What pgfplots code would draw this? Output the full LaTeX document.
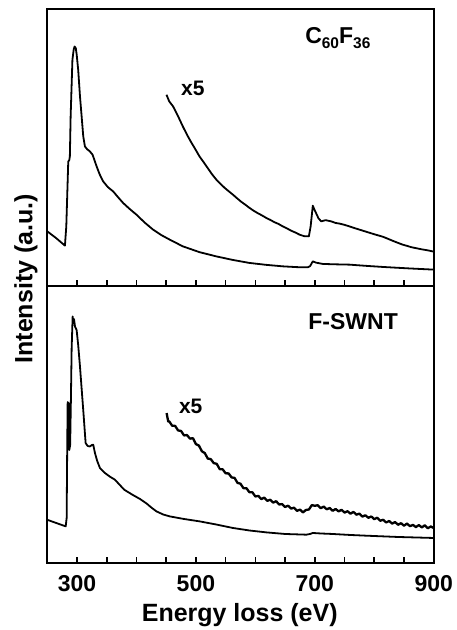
\documentclass[border=0pt]{standalone}
\usepackage{fontspec}
\setmainfont{Liberation Sans}
\usepackage{pgfplots}
\pgfplotsset{compat=1.18}

\newcommand{\lbl}{\bfseries\fontsize{23}{27}\selectfont}
\newcommand{\axlbl}{\bfseries\fontsize{25}{29}\selectfont}
\newcommand{\sub}[1]{\raisebox{-0.22em}{\fontsize{15.5}{16}\selectfont #1}}

\pgfplotstableread{
e    h
300  6
350  6
400  6
450  6
500  6
550  6
600  6
650  6
700  6
750  6
800  6
850  6
}\ticktab

\pgfplotsset{
  panel/.style={
    scale only axis, width=386.7pt, height=277pt,
    anchor=south west, clip=false,
    xmin=250, xmax=900, ymin=0, ymax=277,
    xtick={300,500,700,900}, ytick=\empty,
    xtick pos=left, tick align=inside,
    major tick length=6pt,
    axis line style={line width=1.6pt},
    xticklabel style={font=\lbl, anchor=base, yshift=-28.4pt},
  },
  spec/.style={black, mark=none, line width=1.8pt, line join=round},
}

\begin{document}
\begin{tikzpicture}
\path (0,0) rectangle (454pt,630pt);

% upper panel: C60F36
\begin{axis}[panel, at={(47.3pt,343.7pt)}, xticklabels={}]
\addplot[spec] coordinates {
 (250,54.8) (265,48) (279.7,40.5) (282,60) (285.3,124.8) (287,126) (288,130)
 (289.3,169.8) (292.3,226.5) (294.5,237) (296,239.8) (298,238) (299.5,231.5)
 (302,216.5) (305,190) (307.8,169.8) (310.5,150) (313.3,139.8) (317,137)
 (321.7,134.8) (326.2,131.5) (333,119.8) (338,112) (344,104.8) (352,99)
 (360.8,94.8) (369,89) (377.6,83.2) (388,77.5) (400,71.5) (414,63.5)
 (428,56.5) (442,51) (456,46.5) (478,39.8) (506,34) (534,29.8) (562,26.2)
 (590,23.2) (618,21.3) (646,19.8) (670,19) (688,18.8) (692,20) (696.6,24.8)
 (702,23.5) (713.4,22.2) (735,21.8) (758,21.5) (786,20.3) (814,19.2)
 (856,17.8) (900,16.5)
};
\addplot[spec] coordinates {
 (450.5,191.5) (455,185) (461.6,179.8) (470,170) (478,159.8) (485,151.5)
 (492,144) (499,137) (506,129.8) (513,124) (520,118) (527,112) (534.4,106.5)
 (541,102.5) (548,98.5) (555,95) (562.3,91.5) (569,88) (576,84.5) (583,81.5)
 (590.3,78.2) (597,75.5) (604,73) (611,70.8) (618.4,68.2) (625,66.3)
 (632,64) (639,62.2) (646,59.8) (653,57.8) (660,55.5) (667,53.7)
 (674.3,51.5) (682,50) (690,49.8) (693,60) (696.6,80.5) (699,77)
 (702,73.2) (706,68) (710.7,64.8) (718,66) (722,65.5) (727.5,64.8)
 (735,63.2) (742,62.5) (750,61.3) (758,59.8) (765,58.4) (772,57.1) (779,55.8)
 (786,54.5) (793,53.2) (800,51.9) (807,50.7) (814,49.5) (822,47.6) (830,45.6)
 (838,43.7) (847.7,41.5) (855,40.3) (862,39) (870,38) (880,36.8) (890,35.8)
 (900,34.5)
};
\addplot[ycomb, black, mark=none, line width=1.6pt] table[x=e, y=h] {\ticktab};
\node[font=\lbl, anchor=base] at (axis cs:738.7,243.2) {C\sub{60}F\sub{36}};
\node[font=\bfseries\fontsize{21}{25}\selectfont, anchor=base] at (axis cs:494.7,190.5) {x5};
\end{axis}

% lower panel: F-SWNT
\begin{axis}[panel, at={(47.3pt,66.7pt)}, xticklabels={300,500,700,900},
  xlabel={Energy loss (eV)},
  xlabel style={font=\axlbl, at={(axis description cs:0.498,-0.211)}, anchor=base}]
\addplot[spec] coordinates {
 (251,43) (265,40) (281,36.6) (282.6,45) (283.5,113) (284.3,161) (285,115)
 (286,160) (287,113) (288.5,118) (289.8,165) (291,215) (292.7,246.6)
 (294,240) (295,244) (296.6,236.6) (299.4,233) (302,218) (305,196.6)
 (310.5,153) (314.5,120) (318,117) (321.8,116.6) (325,118) (327.3,118.3)
 (330.2,110) (334,102) (338.6,95) (347,90) (355,86.5) (363.8,83.3)
 (379.4,73.3) (394,68) (406,64) (417,59.5) (425,55.5) (433.7,51.6)
 (445,48.5) (456,46.6) (480,44) (506.4,41.6) (534,38.5) (562.3,35)
 (590,32.5) (618.4,30.6) (650,29) (685.6,28.3) (692,29) (696.6,30)
 (710,29.5) (730,29) (760,28) (786.3,27.3) (840,26) (900,25)
};
\addplot[spec, line width=2.3pt] coordinates {
 (450.7,150) (453.4,141.6) (455,141.8) (460,137.3) (465,137.2) (470,132.6)
 (475,132.1) (480,127.6) (485,128.0) (490,124.4) (495,124.9) (500,118.9)
 (505,117.5) (510,111.8) (515,109.9) (520,104.4) (525,103.9) (530,99.9)
 (535,99.2) (540,93.9) (545,93.7) (550,89.7) (555,89.6) (560,85.6)
 (565,85.1) (570,80.1) (575,79.3) (580,74.8) (585,74.8) (590,70.7)
 (595,70.7) (600,66.5) (605,67.1) (610,63.9) (615,65.4) (620,62.1)
 (625,63.3) (630,60.4) (635,61.8) (640,58.5) (645,58.9) (650,56.0)
 (655,57.3) (660,54.4) (665,55.3) (670,52.1) (675,53.4) (680,50.6)
 (685,53.0) (690,53.5) (695,57.9) (700,57.2) (705,57.8) (710,54.8)
 (715,56.4) (720,53.7) (725,55.0) (730,52.2) (735,54.0) (740,51.6)
 (745,53.2) (750,50.4) (755,51.8) (760,49.3) (765,51.1) (770,48.3)
 (775,49.4) (780,46.4) (785,47.7) (790,45.2) (795,46.5) (800,43.8)
 (805,45.3) (810,42.2) (815,43.2) (820,40.5) (825,42.0) (830,39.4)
 (835,40.9) (840,38.2) (845,39.8) (850,37.3) (855,39.4) (860,36.8)
 (865,38.1) (870,35.9) (875,37.9) (880,35.6) (885,37.7) (890,34.7)
 (895,36.5) (900,35.0)
};
\addplot[ycomb, black, mark=none, line width=1.6pt] table[x=e, y=h] {\ticktab};
\node[font=\lbl, anchor=base] at (axis cs:764.4,234) {F-SWNT};
\node[font=\bfseries\fontsize{21}{25}\selectfont, anchor=base] at (axis cs:491.3,150) {x5};
\end{axis}

\node[font=\axlbl, rotate=90] at (26pt,351pt) {Intensity (a.u.)};
\end{tikzpicture}
\end{document}
